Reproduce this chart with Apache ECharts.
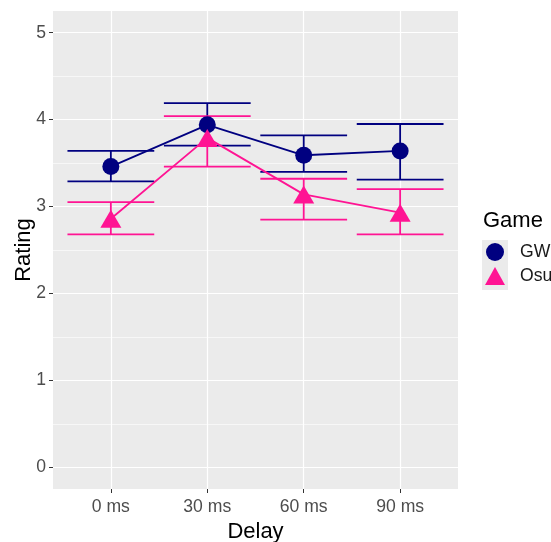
<!DOCTYPE html>
<html>
<head>
<meta charset="utf-8">
<script src="https://cdn.jsdelivr.net/npm/echarts@6/dist/echarts.min.js"></script>
<style>html,body{margin:0;padding:0;background:#fff}#c{width:551px;height:542px}</style>
</head>
<body>
<div id="c"></div>
<script>
const categories = ['0 ms', '30 ms', '60 ms', '90 ms'];
const yTicks = [0, 1, 2, 3, 4, 5];
const yMinor = [0.5, 1.5, 2.5, 3.5, 4.5];
const gwMean = [3.46, 3.94, 3.59, 3.64];
const gwLow  = [3.29, 3.70, 3.40, 3.31];
const gwHigh = [3.64, 4.19, 3.82, 3.95];
const osuMean = [2.86, 3.79, 3.14, 2.93];
const osuLow  = [2.68, 3.46, 2.85, 2.68];
const osuHigh = [3.05, 4.04, 3.32, 3.20];

const FONT = 'Liberation Sans, Arial, sans-serif';
const NAVY = '#000080', PINK = '#FF1493';
const catIdx = categories.map((c, i) => i);

function errData(lo, hi) { return catIdx.map(i => [i, lo[i], hi[i]]); }
function lineData(m) { return catIdx.map(i => [i, m[i]]); }
function errRender(color) {
  return function (params, api) {
    const x = api.value(0), lo = api.value(1), hi = api.value(2);
    const w = 0.45;
    const t = api.coord([x, hi]), b = api.coord([x, lo]);
    const tl = api.coord([x - w, hi]), tr = api.coord([x + w, hi]);
    const bl = api.coord([x - w, lo]), br = api.coord([x + w, lo]);
    const st = { stroke: color, lineWidth: 1.8 };
    return { type: 'group', children: [
      { type: 'line', shape: { x1: t[0], y1: t[1], x2: b[0], y2: b[1] }, style: st },
      { type: 'line', shape: { x1: tl[0], y1: tl[1], x2: tr[0], y2: tr[1] }, style: st },
      { type: 'line', shape: { x1: bl[0], y1: bl[1], x2: br[0], y2: br[1] }, style: st }
    ]};
  };
}

const chart = echarts.init(document.getElementById('c'), null, { renderer: 'canvas' });
chart.setOption({
  animation: false,
  textStyle: { fontFamily: FONT },
  title: { text: 'Game', left: 478, top: 205, textStyle: { fontFamily: FONT, fontSize: 22, fontWeight: 'normal', color: '#000' } },
  graphic: [{ type: 'rect', left: 482, top: 240, shape: { width: 26, height: 50 }, style: { fill: '#EBEBEB' }, z: 0 }],
  legend: {
    orient: 'vertical', left: 485, top: 243, itemWidth: 20, itemHeight: 18, itemGap: 6,
    padding: 0,
    textStyle: { fontFamily: FONT, fontSize: 17.6, color: '#1A1A1A', padding: [0, 0, 0, 10] },
    data: [{ name: 'GW', icon: 'circle' }, { name: 'Osu', icon: 'triangle' }],
    z: 5
  },
  grid: { left: 53, top: 11, width: 405, height: 478, show: true, backgroundColor: '#EBEBEB', borderWidth: 0, containLabel: false, outerBoundsMode: 'none' },
  xAxis: {
    type: 'value', min: -0.6, max: 3.6,
    name: 'Delay', nameLocation: 'middle', nameGap: 28,
    nameTextStyle: { fontFamily: FONT, fontSize: 22, color: '#000' },
    axisLine: { show: false, onZero: false },
    axisTick: { show: true, customValues: catIdx, length: 4, lineStyle: { color: '#333' } },
    axisLabel: { customValues: catIdx, formatter: v => categories[Math.round(v)], fontFamily: FONT, fontSize: 17.6, color: '#4D4D4D', margin: 9 },
    splitLine: { show: true, lineStyle: { color: '#fff', width: 1.2 } }
  },
  yAxis: [{
    type: 'value', min: -0.25, max: 5.25,
    name: 'Rating', nameLocation: 'middle', nameGap: 18, nameRotate: 90, nameMoveOverlap: false,
    nameTextStyle: { fontFamily: FONT, fontSize: 22, color: '#000' },
    axisLine: { show: false, onZero: false },
    axisTick: { show: true, customValues: yTicks, length: 4, lineStyle: { color: '#333' } },
    axisLabel: { customValues: yTicks, fontFamily: FONT, fontSize: 17.6, color: '#4D4D4D', margin: 7 },
    splitLine: { show: true, lineStyle: { color: '#fff', width: 1.2 } }
  }, {
    type: 'value', min: -0.25, max: 5.25, position: 'left',
    axisLine: { show: false, onZero: false },
    axisTick: { show: false, customValues: yMinor },
    axisLabel: { show: false, customValues: yMinor },
    splitLine: { show: true, lineStyle: { color: '#fff', width: 0.6 } }
  }],
  series: [
    { type: 'custom', name: 'GWerr', data: errData(gwLow, gwHigh), renderItem: errRender(NAVY), z: 2, silent: true },
    { type: 'custom', name: 'Osuerr', data: errData(osuLow, osuHigh), renderItem: errRender(PINK), z: 2, silent: true },
    { type: 'line', name: 'GW', data: lineData(gwMean), symbol: 'circle', symbolSize: 17,
      itemStyle: { color: NAVY }, lineStyle: { color: NAVY, width: 1.8 }, z: 3 },
    { type: 'line', name: 'Osu', data: lineData(osuMean), symbol: 'triangle', symbolSize: [21, 18],
      itemStyle: { color: PINK }, lineStyle: { color: PINK, width: 1.8 }, z: 4 }
  ]
});
</script>
</body>
</html>
